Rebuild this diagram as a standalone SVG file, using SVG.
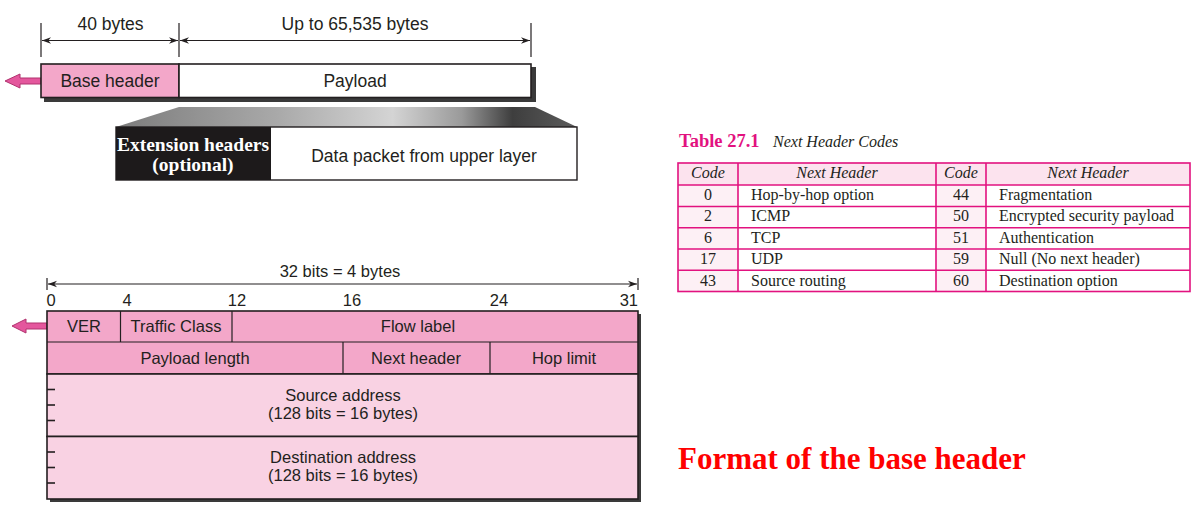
<svg xmlns="http://www.w3.org/2000/svg" width="1195" height="518" viewBox="0 0 1195 518">
<style>
.s{font-family:"Liberation Sans",Arial,sans-serif;fill:#231f20}
.t{font-size:17.5px}
.b{font-size:16.5px}
.m{text-anchor:middle}
.box{stroke:#231f20;stroke-width:1.6}
.ln{stroke:#231f20;stroke-width:1.2;fill:none}
.tk{stroke:#231f20;stroke-width:1.6;fill:none}
.sh{fill:#3a3a3a}
.pk{fill:#f3a7c9}
.lp{fill:#f9d2e3}
.arr{fill:#e4579d;stroke:#b1326f;stroke-width:1}
.tb{font-family:"Liberation Serif","Times New Roman",serif;font-size:16px;fill:#231f20}
.ti{font-style:italic}
.tl{stroke:#e2127f;stroke-width:1.6;fill:none}
</style>
<defs>
<marker id="ah" viewBox="0 0 10 10" refX="10" refY="5" markerWidth="9" markerHeight="9" orient="auto-start-reverse" markerUnits="userSpaceOnUse">
<path d="M0,1.5 L10,5 L0,8.5 L3,5 Z" fill="#231f20"/>
</marker>
<linearGradient id="gr" x1="0" y1="0" x2="1" y2="0">
<stop offset="0" stop-color="#7c7c7c"/>
<stop offset="0.35" stop-color="#a9a9a9"/>
<stop offset="0.6" stop-color="#d4d4d4"/>
<stop offset="0.75" stop-color="#9a9a9a"/>
<stop offset="0.86" stop-color="#3e3e3e"/>
<stop offset="1" stop-color="#5c5c5c"/>
</linearGradient>
</defs>

<!-- connectors / dimension lines -->
<g id="connectors">
<line class="ln" x1="41" y1="23" x2="41" y2="57"/>
<line class="ln" x1="179" y1="23" x2="179" y2="57"/>
<line class="ln" x1="531" y1="23" x2="531" y2="57"/>
<line class="ln" x1="42" y1="40.5" x2="178" y2="40.5" marker-start="url(#ah)" marker-end="url(#ah)"/>
<line class="ln" x1="180" y1="40.5" x2="530" y2="40.5" marker-start="url(#ah)" marker-end="url(#ah)"/>
<line class="ln" x1="47" y1="278" x2="47" y2="290"/>
<line class="ln" x1="638" y1="278" x2="638" y2="290"/>
<line class="ln" x1="48" y1="284" x2="637" y2="284" marker-start="url(#ah)" marker-end="url(#ah)"/>
<path class="arr" d="M41,78 L20,78 L20,74 L5,81 L20,88 L20,84 L41,84 Z"/>
<path class="arr" d="M47,323 L26,323 L26,319 L12,326 L26,333 L26,329 L47,329 Z"/>
</g>

<!-- top packet -->
<g id="top-labels">
<text class="s t m" x="110.5" y="30">40 bytes</text>
<text class="s t m" x="355" y="30">Up to 65,535 bytes</text>
</g>
<g id="packet">
<rect class="sh" x="44" y="67" width="492" height="35"/>
<rect class="box pk" x="41" y="64" width="138" height="33.5"/>
<rect class="box" x="179" y="64" width="352" height="33.5" fill="#fff"/>
<text class="s t m" x="110" y="87">Base header</text>
<text class="s t m" x="355" y="87">Payload</text>
</g>
<g id="expansion">
<path d="M179,107 L535,107 L577,127 L116,127 Z" fill="url(#gr)"/>
<rect x="116" y="127" width="461" height="53" fill="#fff" stroke="#231f20" stroke-width="1.4"/>
<rect x="116" y="127" width="155" height="53" fill="#1d1a1b"/>
<text x="193" y="151" text-anchor="middle" font-family="Liberation Serif,'Times New Roman',serif" font-weight="bold" font-size="19.5" fill="#fff">Extension headers</text>
<text x="193" y="171" text-anchor="middle" font-family="Liberation Serif,'Times New Roman',serif" font-weight="bold" font-size="19.5" fill="#fff">(optional)</text>
<text class="s t m" x="424" y="162">Data packet from upper layer</text>
</g>

<!-- base header format -->
<g id="bit-scale">
<text class="s b m" x="340" y="277">32 bits = 4 bytes</text>
<text class="s b m" x="51" y="306">0</text>
<text class="s b m" x="127" y="306">4</text>
<text class="s b m" x="237" y="306">12</text>
<text class="s b m" x="352" y="306">16</text>
<text class="s b m" x="499" y="306">24</text>
<text class="s b" x="638" y="306" text-anchor="end">31</text>
</g>
<g id="header">
<rect class="sh" x="50" y="314" width="591" height="188"/>
<rect class="box pk" x="47" y="311" width="591" height="63"/>
<rect class="box lp" x="47" y="374" width="591" height="62.5"/>
<rect class="box lp" x="47" y="436.5" width="591" height="62.5"/>
<line class="ln" x1="47" y1="342" x2="638" y2="342"/>
<line class="ln" x1="120.5" y1="311" x2="120.5" y2="342"/>
<line class="ln" x1="232" y1="311" x2="232" y2="342"/>
<line class="ln" x1="343" y1="342" x2="343" y2="374"/>
<line class="ln" x1="490" y1="342" x2="490" y2="374"/>
<g class="tk">
<line x1="47" y1="389.5" x2="55" y2="389.5"/>
<line x1="47" y1="405" x2="55" y2="405"/>
<line x1="47" y1="420.5" x2="55" y2="420.5"/>
<line x1="47" y1="452" x2="55" y2="452"/>
<line x1="47" y1="467.5" x2="55" y2="467.5"/>
<line x1="47" y1="483" x2="55" y2="483"/>
</g>
</g>
<g id="ver"><text class="s b m" x="84" y="332">VER</text></g>
<g id="traffic-class"><text class="s b m" x="176" y="332">Traffic Class</text></g>
<g id="flow-label"><text class="s b m" x="418" y="332">Flow label</text></g>
<g id="payload-length"><text class="s b m" x="195" y="364">Payload length</text></g>
<g id="next-header"><text class="s b m" x="416" y="364">Next header</text></g>
<g id="hop-limit"><text class="s b m" x="564" y="364">Hop limit</text></g>
<g id="source-address">
<text class="s b m" x="343" y="401">Source address</text>
<text class="s b m" x="343" y="419">(128 bits = 16 bytes)</text>
</g>
<g id="destination-address">
<text class="s b m" x="343" y="463">Destination address</text>
<text class="s b m" x="343" y="481">(128 bits = 16 bytes)</text>
</g>

<!-- table -->
<g id="table">
<text x="679" y="147" font-family="Liberation Serif,'Times New Roman',serif" font-weight="bold" font-size="18.5" fill="#e2127f">Table 27.1</text>
<text class="tb ti" x="773" y="147" font-size="15.5">Next Header Codes</text>
<rect x="678" y="163" width="512" height="22" fill="#fce3ee"/>
<rect x="678" y="185" width="60" height="106.5" fill="#fdf0f5"/>
<rect x="936" y="185" width="50" height="106.5" fill="#fdf0f5"/>
<rect class="tl" x="678" y="163" width="512" height="128.5"/>
<g class="tl">
<line x1="678" y1="185" x2="1190" y2="185"/>
<line x1="678" y1="206.5" x2="1190" y2="206.5"/>
<line x1="678" y1="227.8" x2="1190" y2="227.8"/>
<line x1="678" y1="249" x2="1190" y2="249"/>
<line x1="678" y1="270.3" x2="1190" y2="270.3"/>
<line x1="738" y1="163" x2="738" y2="291.5"/>
<line x1="936" y1="163" x2="936" y2="291.5"/>
<line x1="986" y1="163" x2="986" y2="291.5"/>
</g>
<g class="tb">
<text class="ti" x="708" y="178" text-anchor="middle">Code</text>
<text class="ti" x="837" y="178" text-anchor="middle">Next Header</text>
<text class="ti" x="961" y="178" text-anchor="middle">Code</text>
<text class="ti" x="1088" y="178" text-anchor="middle">Next Header</text>
<text x="708" y="200" text-anchor="middle">0</text>
<text x="708" y="221" text-anchor="middle">2</text>
<text x="708" y="242.5" text-anchor="middle">6</text>
<text x="708" y="264" text-anchor="middle">17</text>
<text x="708" y="285.5" text-anchor="middle">43</text>
<text x="751" y="200">Hop-by-hop option</text>
<text x="751" y="221">ICMP</text>
<text x="751" y="242.5">TCP</text>
<text x="751" y="264">UDP</text>
<text x="751" y="285.5">Source routing</text>
<text x="961" y="200" text-anchor="middle">44</text>
<text x="961" y="221" text-anchor="middle">50</text>
<text x="961" y="242.5" text-anchor="middle">51</text>
<text x="961" y="264" text-anchor="middle">59</text>
<text x="961" y="285.5" text-anchor="middle">60</text>
<text x="999" y="200">Fragmentation</text>
<text x="999" y="221">Encrypted security payload</text>
<text x="999" y="242.5">Authentication</text>
<text x="999" y="264">Null (No next header)</text>
<text x="999" y="285.5">Destination option</text>
</g>
</g>

<g id="caption">
<text x="678" y="469" font-family="Liberation Serif,'Times New Roman',serif" font-weight="bold" font-size="31" fill="#ff0000">Format of the base header</text>
</g>
</svg>
